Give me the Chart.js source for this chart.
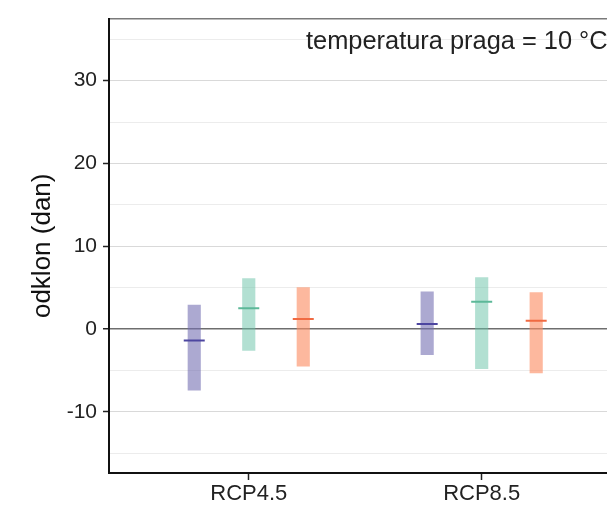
<!DOCTYPE html>
<html lang="sl">
<head>
<meta charset="UTF-8">
<title>odklon (dan)</title>
<script src="https://cdn.jsdelivr.net/npm/chart.js"></script>
<style>
  html, body { margin: 0; padding: 0; background: #fff; overflow: hidden; }
  #okvir { width: 607px; height: 506px; }
</style>
</head>
<body>
<div id="okvir"><canvas id="graf" width="607" height="506"></canvas></div>
<script>
// scenariji na osi x
const scenariji = ['RCP4.5', 'RCP8.5'];

// razponi (spodaj / zgoraj) in mediane za tri serije
const spodaj1 = [-7.4, -3.1];
const zgoraj1 = [2.9, 4.5];
const mediana1 = [-1.4, 0.6];

const spodaj2 = [-2.6, -4.8];
const zgoraj2 = [6.1, 6.2];
const mediana2 = [2.5, 3.3];

const spodaj3 = [-4.5, -5.3];
const zgoraj3 = [5.0, 4.4];
const mediana3 = [1.2, 1.0];

// oznake y osi
const yOznake = [-10, 0, 10, 20, 30];
const yPomozne = [-15, -5, 5, 15, 25, 35];
const napis = 'temperatura praga = 10 °C';

const pisava = "'Liberation Sans', Arial, sans-serif";
const zamik = 0.234; // odmik serije od sredine skupine

function razpon(sp, zg, odmik) {
  return scenariji.map((s, i) => ({ x: i + odmik, y: [sp[i], zg[i]] }));
}
function mediane(m, odmik) {
  return scenariji.map((s, i) => ({ x: i + odmik, y: m[i] }));
}

const barve = [
  { polnilo: 'rgba(117,112,179,0.6)', crta: '#4d46a0' },
  { polnilo: 'rgba(102,194,165,0.5)', crta: '#5cb898' },
  { polnilo: 'rgba(252,141,98,0.62)', crta: '#f06a42' }
];

const podatki = [
  [spodaj1, zgoraj1, mediana1, -zamik],
  [spodaj2, zgoraj2, mediana2, 0],
  [spodaj3, zgoraj3, mediana3, zamik]
];

let datasets = [];
podatki.forEach(function (p, k) {
  datasets.push({
    type: 'bar',
    data: razpon(p[0], p[1], p[3]),
    backgroundColor: barve[k].polnilo,
    borderWidth: 0,
    barThickness: 12.5,
    grouped: false,
    order: 2
  });
});
podatki.forEach(function (p, k) {
  datasets.push({
    type: 'scatter',
    data: mediane(p[2], p[3]),
    pointStyle: 'line',
    pointRadius: 10.5,
    pointHoverRadius: 10.5,
    borderColor: barve[k].crta,
    borderWidth: 2,
    order: 0
  });
});

// napis v zgornjem desnem kotu
const napisPlugin = {
  id: 'napis',
  afterDraw(chart) {
    const ctx = chart.ctx;
    ctx.save();
    ctx.font = '25.4px ' + pisava;
    ctx.fillStyle = '#222';
    ctx.textAlign = 'left';
    ctx.textBaseline = 'middle';
    ctx.fillText(napis, 306, 42);
    ctx.restore();
  }
};

new Chart(document.getElementById('graf'), {
  data: { datasets: datasets },
  plugins: [napisPlugin],
  options: {
    responsive: false,
    animation: false,
    layout: { autoPadding: false, padding: { top: 16, right: 0, left: 0, bottom: 0 } },
    plugins: { legend: { display: false }, tooltip: { enabled: false } },
    scales: {
      x: {
        type: 'linear',
        min: -0.6,
        max: 1.538,
        offset: false,
        afterBuildTicks: function (scale) {
          scale.ticks = scenariji.map((s, i) => ({ value: i }));
        },
        afterFit: function (scale) { scale.height = 33; },
        ticks: {
          callback: v => scenariji[v],
          color: '#222',
          font: { family: pisava, size: 22 },
          padding: 1,
          maxRotation: 0
        },
        grid: { offset: false, drawOnChartArea: false, tickLength: 7, tickColor: '#222', tickWidth: 1.5 },
        border: { color: '#111', width: 2 }
      },
      y: {
        type: 'linear',
        min: -17.4,
        max: 37.5,
        afterBuildTicks: function (scale) {
          let t = yOznake.concat(yPomozne).concat([37.5]).sort((a, b) => a - b);
          scale.ticks = t.map(v => ({ value: v }));
        },
        afterFit: function (scale) { scale.width = 109; },
        ticks: {
          callback: v => (yOznake.indexOf(v) >= 0 ? String(v) : ''),
          color: '#222',
          font: { family: pisava, size: 21 },
          padding: 6
        },
        grid: {
          color: function (c) {
            const v = c.tick ? c.tick.value : null;
            if (v === 0) return '#6e6e6e';
            if (v === 37.5) return '#7a7a7a';
            if (yOznake.indexOf(v) >= 0) return '#d9d9d9';
            return '#ececec';
          },
          lineWidth: function (c) {
            const v = c.tick ? c.tick.value : null;
            return (v === 0 || v === 37.5) ? 1.5 : 1;
          },
          tickLength: 6,
          tickColor: function (c) {
            const v = c.tick ? c.tick.value : null;
            return yOznake.indexOf(v) >= 0 ? '#222' : 'rgba(0,0,0,0)';
          },
          tickWidth: 1.5
        },
        border: { color: '#111', width: 2 },
        title: {
          display: true,
          text: 'odklon (dan)',
          color: '#111',
          font: { family: pisava, size: 26 },
          padding: { top: 27, bottom: 0 }
        }
      }
    }
  }
});
</script>
</body>
</html>
